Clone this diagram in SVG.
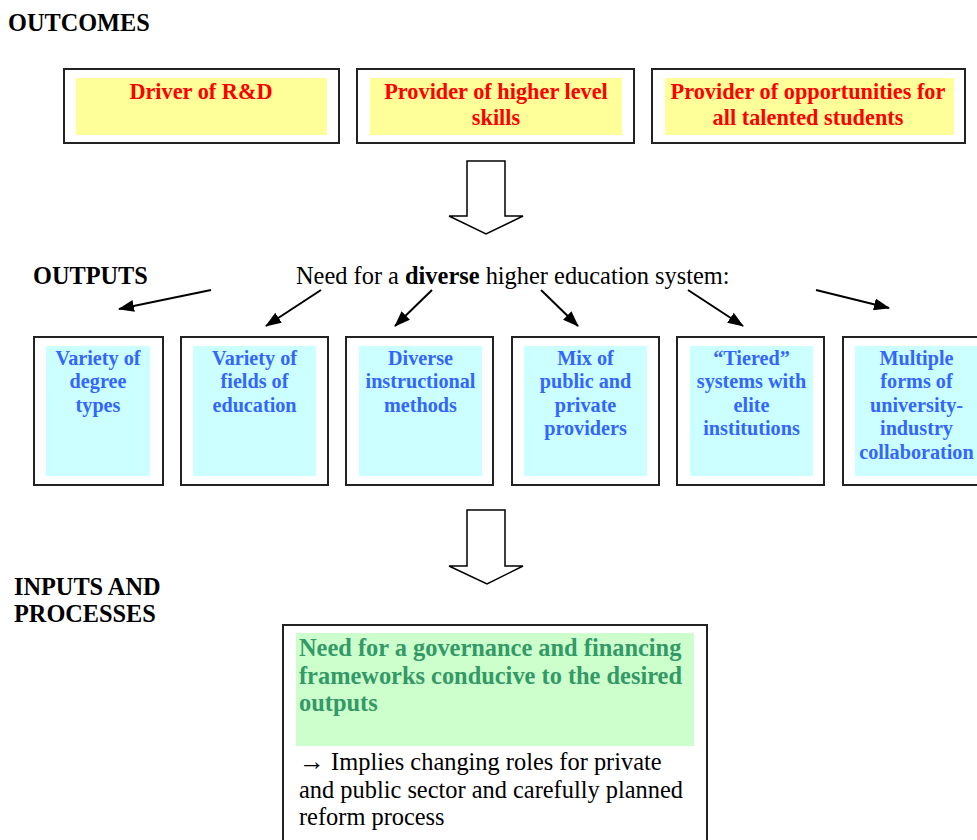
<svg xmlns="http://www.w3.org/2000/svg" width="977" height="840" viewBox="0 0 977 840">
<defs>
<style>
.hdr{font-family:"Liberation Serif","Times New Roman",serif;font-weight:bold;font-size:24.3px;fill:#000}
.box{fill:#fff;stroke:#222;stroke-width:2}
.yel{fill:#ffff99}
.cy{fill:#ccffff}
.gr{fill:#ccffcc}
.red{font-family:"Liberation Serif","Times New Roman",serif;font-weight:bold;font-size:22.3px;fill:#ff0000;text-anchor:middle}
.blue{font-family:"Liberation Serif","Times New Roman",serif;font-weight:bold;font-size:20.2px;fill:#3366ff;text-anchor:middle}
.green{font-family:"Liberation Serif","Times New Roman",serif;font-weight:bold;font-size:24.4px;fill:#339966}
.body{font-family:"Liberation Serif","Times New Roman",serif;font-size:24.4px;fill:#000}
.blk{fill:#fff;stroke:#000;stroke-width:1.5}
.conn{stroke:#000;stroke-width:2;fill:none;marker-end:url(#ah)}
</style>
<marker id="ah" markerUnits="userSpaceOnUse" markerWidth="16" markerHeight="12" refX="15" refY="6" orient="auto">
<path d="M0,0 L16,6 L0,12 Z" fill="#000"/>
</marker>
</defs>
<rect width="977" height="840" fill="#fff"/>

<text class="hdr" x="8" y="31">OUTCOMES</text>
<text class="hdr" x="33" y="284">OUTPUTS</text>
<text class="hdr" x="14" y="595">INPUTS AND</text>
<text class="hdr" x="14" y="622">PROCESSES</text>

<g id="outcome1">
<rect class="box" x="64" y="69" width="275" height="74"/>
<rect class="yel" x="76" y="78" width="251" height="57"/>
<text class="red" x="201" y="99">Driver of R&amp;D</text>
</g>
<g id="outcome2">
<rect class="box" x="357" y="69" width="277" height="74"/>
<rect class="yel" x="370" y="78" width="252" height="57"/>
<text class="red" x="496" y="99">Provider of higher level</text>
<text class="red" x="496" y="125">skills</text>
</g>
<g id="outcome3">
<rect class="box" x="652" y="69" width="313" height="74"/>
<rect class="yel" x="665" y="78" width="289" height="57"/>
<text class="red" x="808" y="99">Provider of opportunities for</text>
<text class="red" x="808" y="125">all talented students</text>
</g>

<g id="blockarrow1">
<path class="blk" d="M467,161 L505,161 L505,216 L523,216 L486,234 L449,216 L467,216 Z"/>
</g>

<g id="need-diverse">
<text class="body" x="296" y="284" font-size="24.6px">Need for a <tspan font-weight="bold">diverse</tspan> higher education system:</text>
</g>

<g id="connectors">
<line class="conn" x1="211" y1="290" x2="119" y2="309"/>
<line class="conn" x1="321" y1="290" x2="266" y2="326"/>
<line class="conn" x1="432" y1="290" x2="395" y2="326"/>
<line class="conn" x1="541" y1="290" x2="578" y2="326"/>
<line class="conn" x1="688" y1="290" x2="743" y2="326"/>
<line class="conn" x1="816" y1="290" x2="889" y2="308"/>
</g>

<g id="output1">
<rect class="box" x="34" y="337" width="129" height="148"/>
<rect class="cy" x="46" y="346" width="104" height="130"/>
<text class="blue" x="98" y="364.5">Variety of</text>
<text class="blue" x="98" y="388">degree</text>
<text class="blue" x="98" y="411.5">types</text>
</g>
<g id="output2">
<rect class="box" x="181" y="337" width="147" height="148"/>
<rect class="cy" x="193" y="346" width="123" height="130"/>
<text class="blue" x="254.5" y="364.5">Variety of</text>
<text class="blue" x="254.5" y="388">fields of</text>
<text class="blue" x="254.5" y="411.5">education</text>
</g>
<g id="output3">
<rect class="box" x="346" y="337" width="147" height="148"/>
<rect class="cy" x="359" y="346" width="123" height="130"/>
<text class="blue" x="420.5" y="364.5">Diverse</text>
<text class="blue" x="420.5" y="388">instructional</text>
<text class="blue" x="420.5" y="411.5">methods</text>
</g>
<g id="output4">
<rect class="box" x="512" y="337" width="147" height="148"/>
<rect class="cy" x="524" y="346" width="123" height="130"/>
<text class="blue" x="585.5" y="364.5">Mix of</text>
<text class="blue" x="585.5" y="388">public and</text>
<text class="blue" x="585.5" y="411.5">private</text>
<text class="blue" x="585.5" y="435">providers</text>
</g>
<g id="output5">
<rect class="box" x="677" y="337" width="147" height="148"/>
<rect class="cy" x="690" y="346" width="123" height="130"/>
<text class="blue" x="751.5" y="364.5">“Tiered”</text>
<text class="blue" x="751.5" y="388">systems with</text>
<text class="blue" x="751.5" y="411.5">elite</text>
<text class="blue" x="751.5" y="435">institutions</text>
</g>
<g id="output6">
<rect class="box" x="843" y="337" width="147" height="148"/>
<rect class="cy" x="855" y="346" width="123" height="130"/>
<text class="blue" x="916.5" y="364.5">Multiple</text>
<text class="blue" x="916.5" y="388">forms of</text>
<text class="blue" x="916.5" y="411.5">university-</text>
<text class="blue" x="916.5" y="435">industry</text>
<text class="blue" x="916.5" y="458.5">collaboration</text>
</g>

<g id="blockarrow2">
<path class="blk" d="M467,510 L505,510 L505,566 L523,566 L487,584 L449,566 L467,566 Z"/>
</g>

<g id="inputs">
<rect class="box" x="283" y="625" width="424" height="225"/>
<rect class="gr" x="296" y="633" width="398" height="113"/>
<text class="green" x="299" y="656">Need for a governance and financing</text>
<text class="green" x="299" y="683.5">frameworks conducive to the desired</text>
<text class="green" x="299" y="711">outputs</text>
<text class="body" x="299" y="770"><tspan font-size="26px">→</tspan> Implies changing roles for private</text>
<text class="body" x="299" y="797.5">and public sector and carefully planned</text>
<text class="body" x="299" y="825">reform process</text>
</g>
</svg>
